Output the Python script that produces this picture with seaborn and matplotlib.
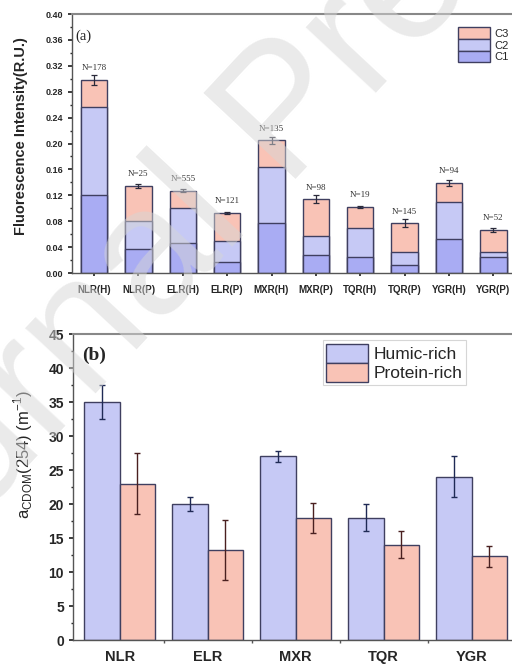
import numpy as np
import pandas as pd
import seaborn as sns
import matplotlib.pyplot as plt
from matplotlib.patches import Patch
from matplotlib.ticker import MultipleLocator, FormatStrFormatter, FixedLocator

# ---- data panel (a): stacked fluorescence components
samples = ['NLR(H)', 'NLR(P)', 'ELR(H)', 'ELR(P)', 'MXR(H)',
           'MXR(P)', 'TQR(H)', 'TQR(P)', 'YGR(H)', 'YGR(P)']
c1 = [0.121, 0.037, 0.046, 0.017, 0.078, 0.028, 0.024, 0.012, 0.052, 0.024]
c2 = [0.136, 0.043, 0.055, 0.032, 0.086, 0.029, 0.045, 0.021, 0.057, 0.009]
c3 = [0.041, 0.055, 0.026, 0.044, 0.041, 0.057, 0.033, 0.044, 0.030, 0.034]
tot_err = [0.008, 0.003, 0.002, 0.002, 0.005, 0.006, 0.002, 0.006, 0.005, 0.003]
n_labels = ['N=178', 'N=25', 'N=555', 'N=121', 'N=135',
            'N=98', 'N=19', 'N=145', 'N=94', 'N=52']

# ---- data panel (b): aCDOM(254)
rivers = ['NLR', 'ELR', 'MXR', 'TQR', 'YGR']
humic = [35.0, 20.0, 27.0, 18.0, 24.0]
humic_err = [2.5, 1.0, 0.8, 2.0, 3.0]
protein = [23.0, 13.3, 18.0, 14.0, 12.3]
protein_err = [4.5, 4.4, 2.2, 2.0, 1.5]

col_c1 = '#a9acf3'
col_c2 = '#c6c9f5'
col_c3 = '#f9c3b6'
edge = '#3f3f60'

sns.set_theme(style='white')
plt.rcParams['font.family'] = ['Liberation Sans', 'DejaVu Sans']

fig = plt.figure(figsize=(5.12, 6.68), dpi=100)
ax1 = fig.add_axes([0.1406, 0.5913, 0.866, 0.3877])
ax2 = fig.add_axes([0.1426, 0.0419, 0.873, 0.458])

# ---------- panel (a)
df_a = pd.DataFrame({'sample': samples, 'c1': c1, 'c2': c2, 'c3': c3})
df_a['s2'] = df_a['c1'] + df_a['c2']
df_a['s3'] = df_a['s2'] + df_a['c3']

for col, color in [('s3', col_c3), ('s2', col_c2), ('c1', col_c1)]:
    sns.barplot(data=df_a, x='sample', y=col, color=color, width=0.6,
                edgecolor=edge, linewidth=1.0, saturation=1, ax=ax1)

xs = np.arange(len(samples))
ax1.errorbar(xs, df_a['s3'], yerr=tot_err, fmt='none', ecolor='#2a2a3a',
             elinewidth=0.9, capsize=2, capthick=0.9, zorder=5)
for x, top, lab in zip(xs, df_a['s3'], n_labels):
    ax1.text(x, top + 0.018, lab, ha='center', va='center',
             fontsize=6.5, family='Liberation Serif', color='#333333')

ax1.set_xlim(-0.5, 9.5)
ax1.set_ylim(0, 0.40)
ax1.yaxis.set_major_locator(MultipleLocator(0.04))
ax1.yaxis.set_minor_locator(MultipleLocator(0.02))
ax1.yaxis.set_major_formatter(FormatStrFormatter('%.2f'))
ax1.set_xlabel('')
ax1.set_ylabel('Fluorescence Intensity(R.U.)', fontsize=10.5, fontweight='bold')
ax1.yaxis.set_label_coords(-0.099, 0.53)
ax1.tick_params(axis='both', which='both', direction='out', left=True, bottom=True)
ax1.tick_params(axis='y', labelsize=6.5, length=3)
ax1.tick_params(axis='y', which='minor', length=1.5)
ax1.tick_params(axis='x', labelsize=7, length=2.5, pad=6)
for lab in ax1.get_xticklabels() + ax1.get_yticklabels():
    lab.set_fontweight('bold')
ax1.text(0.008, 0.915, '(a)', transform=ax1.transAxes, fontsize=10.5,
         family='Liberation Serif', va='center')
h_a = [Patch(facecolor=col_c3, edgecolor=edge, label='C3'),
       Patch(facecolor=col_c2, edgecolor=edge, label='C2'),
       Patch(facecolor=col_c1, edgecolor=edge, label='C1')]
ax1.legend(handles=h_a, loc='upper right', bbox_to_anchor=(1.0, 0.975),
           fontsize=8, frameon=False, handlelength=2.9, handleheight=1.25,
           handletextpad=0.35, labelspacing=0.0, borderaxespad=0.2)

# ---------- panel (b)
df_b = pd.DataFrame({
    'river': rivers * 2,
    'value': humic + protein,
    'type': ['Humic-rich'] * 5 + ['Protein-rich'] * 5,
})
sns.barplot(data=df_b, x='river', y='value', hue='type',
            palette={'Humic-rich': col_c2, 'Protein-rich': col_c3},
            width=0.8, edgecolor=edge, linewidth=1.0, saturation=1,
            errorbar=None, legend=False, ax=ax2)
xg = np.arange(len(rivers))
ax2.errorbar(xg - 0.2, humic, yerr=humic_err, fmt='none', ecolor='#1f2a55',
             elinewidth=1.0, capsize=2.5, capthick=1.0, zorder=5)
ax2.errorbar(xg + 0.2, protein, yerr=protein_err, fmt='none', ecolor='#4a2020',
             elinewidth=1.0, capsize=2.5, capthick=1.0, zorder=5)

ax2.set_xlim(-0.53, 4.55)
ax2.set_ylim(0, 45)
ax2.yaxis.set_major_locator(MultipleLocator(5))
ax2.yaxis.set_minor_locator(MultipleLocator(2.5))
ax2.xaxis.set_minor_locator(FixedLocator(xg[:-1] + 0.5))
ax2.set_xlabel('')
ax2.set_ylabel(r'a$_{\mathregular{CDOM}}$(254) (m$^{\mathregular{-1}}$)',
               fontsize=12)
ax2.yaxis.set_label_coords(-0.086, 0.605)
ax2.tick_params(axis='both', which='both', direction='out', left=True, bottom=True)
ax2.tick_params(axis='y', labelsize=10, length=3)
ax2.tick_params(axis='y', which='minor', length=1.5)
ax2.tick_params(axis='x', labelsize=10.5, length=0, pad=7)
ax2.tick_params(axis='x', which='minor', length=2.5, color='#555555')
for lab in ax2.get_xticklabels() + ax2.get_yticklabels():
    lab.set_fontweight('bold')
ax2.text(0.02, 0.93, '(b)', transform=ax2.transAxes, fontsize=14,
         family='Liberation Serif', fontweight='bold', va='center')
h_b = [Patch(facecolor=col_c2, edgecolor=edge, label='Humic-rich'),
       Patch(facecolor=col_c3, edgecolor=edge, label='Protein-rich')]
leg = ax2.legend(handles=h_b, loc='upper left', bbox_to_anchor=(0.559, 0.98),
                 fontsize=12.5, frameon=True, fancybox=False, handlelength=2.4,
                 handleheight=1.3, handletextpad=0.3, labelspacing=0.0,
                 borderpad=0.2, borderaxespad=0.0)
leg.get_frame().set_edgecolor('#cccccc')
leg.get_frame().set_linewidth(0.8)

for ax in (ax1, ax2):
    for side in ('left', 'bottom'):
        ax.spines[side].set_color('#555555')
        ax.spines[side].set_linewidth(1.0)
    ax.spines['top'].set_color('#888888')
    ax.spines['top'].set_linewidth(1.5)
    ax.spines['right'].set_visible(False)

# faint watermark of the source page
fig.text(0.565, 0.825, 'Journal Pre-proof', fontsize=130, color='#d6d6d6',
         rotation=47, ha='center', va='center', alpha=0.5, zorder=10)

fig.savefig('out.png', dpi=100)
